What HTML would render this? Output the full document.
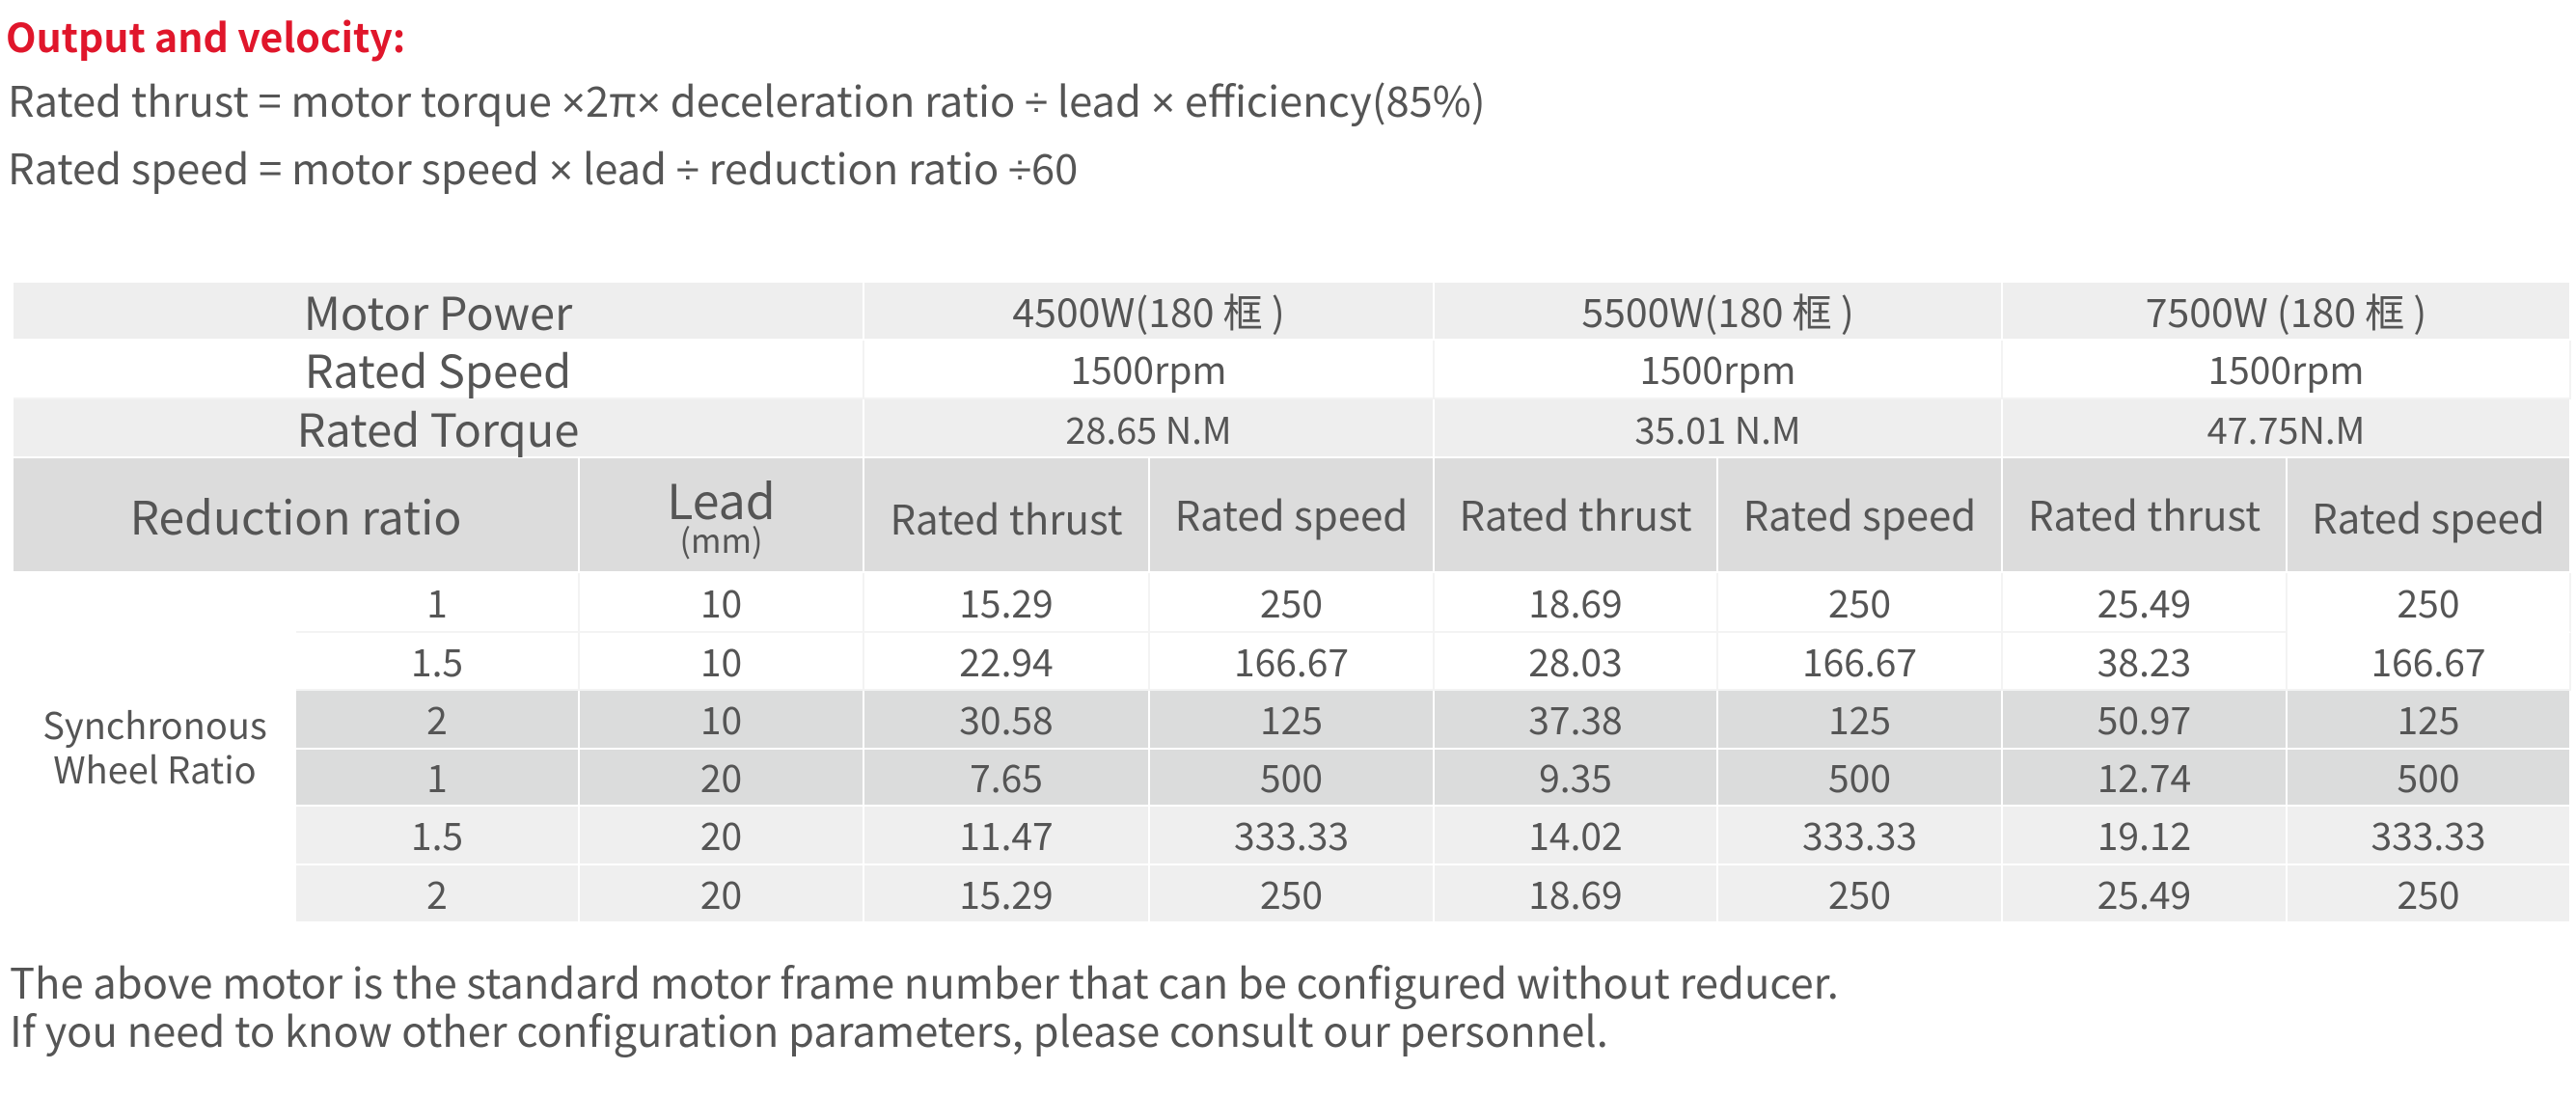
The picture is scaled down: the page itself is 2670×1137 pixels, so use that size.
<!DOCTYPE html>
<html><head><meta charset="utf-8"><style>
body{margin:0;width:2670px;height:1137px;background:#fff;position:relative;overflow:hidden;font-family:"Noto Sans CJK SC","Liberation Sans",sans-serif;color:#555;}
.t{position:absolute;white-space:nowrap;}
.s{font-family:"Liberation Sans",sans-serif;}
.c{position:absolute;display:flex;align-items:center;justify-content:center;box-sizing:border-box;text-align:center;line-height:1.15;white-space:nowrap;}
.g1{background:#eeeeee}.w{background:#fff}.hd{background:#dcdcdc}.dk{background:#dbdcdc}.lt{background:#efefef}
.bl{border-right:2px solid #f3f3f3;border-bottom:2px solid #f3f3f3}
.bg{border-right:2px solid #fff;border-bottom:2px solid #fff}
</style></head><body>
<div class="t" style="left:6px;top:6px;font-size:41px;font-weight:bold;color:#e0162b;">Output and velocity:</div>
<div class="t" style="left:8px;top:71px;font-size:43.5px;">Rated thrust = motor torque <span class="s">×</span>2π<span class="s">×</span> deceleration ratio <span class="s">÷</span> lead <span class="s">×</span> efficiency(85%)</div>
<div class="t" style="left:8px;top:141px;font-size:43.5px;">Rated speed = motor speed <span class="s">×</span> lead <span class="s">÷</span> reduction ratio <span class="s">÷</span>60</div>

<div class="c g1 bg" style="left:14px;top:293px;width:882px;height:60px;font-size:47px;">Motor Power</div>
<div class="c g1 bg" style="left:896px;top:293px;width:591px;height:60px;font-size:41px;">4500W(180 框 )</div>
<div class="c g1 bg" style="left:1487px;top:293px;width:589px;height:60px;font-size:41px;">5500W(180 框 )</div>
<div class="c g1 bg" style="left:2076px;top:293px;width:589px;height:60px;font-size:41px;">7500W (180 框 )</div>

<div class="c w bl" style="left:14px;top:353px;width:882px;height:61px;font-size:47px;">Rated Speed</div>
<div class="c w bl" style="left:896px;top:353px;width:591px;height:61px;font-size:39px;">1500rpm</div>
<div class="c w bl" style="left:1487px;top:353px;width:589px;height:61px;font-size:39px;">1500rpm</div>
<div class="c w bl" style="left:2076px;top:353px;width:589px;height:61px;font-size:39px;">1500rpm</div>

<div class="c g1 bg" style="left:14px;top:414px;width:882px;height:61px;font-size:47px;">Rated Torque</div>
<div class="c g1 bg" style="left:896px;top:414px;width:591px;height:61px;font-size:38px;">28.65 N.M</div>
<div class="c g1 bg" style="left:1487px;top:414px;width:589px;height:61px;font-size:38px;">35.01 N.M</div>
<div class="c g1 bg" style="left:2076px;top:414px;width:589px;height:61px;font-size:38px;">47.75N.M</div>

<div class="c hd bg" style="left:14px;top:475px;width:587px;height:119px;font-size:48px;">Reduction ratio</div>
<div class="c hd bg" style="left:601px;top:475px;width:295px;height:119px;flex-direction:column;"><span style="font-size:50px;line-height:1">Lead</span><span style="font-size:34px;line-height:1">(mm)</span></div>
<div class="c hd bg" style="left:896px;top:475px;width:296px;height:119px;font-size:42px;padding-top:8px;">Rated thrust</div>
<div class="c hd bg" style="left:1192px;top:475px;width:295px;height:119px;font-size:42px;">Rated speed</div>
<div class="c hd bg" style="left:1487px;top:475px;width:294px;height:119px;font-size:42px;">Rated thrust</div>
<div class="c hd bg" style="left:1781px;top:475px;width:295px;height:119px;font-size:42px;">Rated speed</div>
<div class="c hd bg" style="left:2076px;top:475px;width:295px;height:119px;font-size:42px;">Rated thrust</div>
<div class="c hd bg" style="left:2371px;top:475px;width:294px;height:119px;font-size:42px;padding-top:6px;">Rated speed</div>

<div class="c w" style="left:14px;top:594px;width:293px;height:363px;font-size:38px;line-height:1.2;white-space:normal;padding-bottom:6px;">Synchronous<br>Wheel Ratio</div>

<div id="rows"></div>
<script>
var data=[
["1","10","15.29","250","18.69","250","25.49","250","w"],
["1.5","10","22.94","166.67","28.03","166.67","38.23","166.67","w"],
["2","10","30.58","125","37.38","125","50.97","125","dk"],
["1","20","7.65","500","9.35","500","12.74","500","dk"],
["1.5","20","11.47","333.33","14.02","333.33","19.12","333.33","lt"],
["2","20","15.29","250","18.69","250","25.49","250","lt"]];
var tops=[594,656,716,777,836,897,957];
var xs=[307,601,896,1192,1487,1781,2076,2371,2665];
var h="";
for(var r=0;r<6;r++){for(var c=0;c<8;c++){
 var cls=data[r][8];var b=(cls=="w")?"bl":"bg";
 var st="left:"+xs[c]+"px;top:"+tops[r]+"px;width:"+(xs[c+1]-xs[c])+"px;height:"+(tops[r+1]-tops[r])+"px;font-size:39px;";
 if(c==7&&r==0)st+="border-bottom-color:#fff;";
 h+='<div class="c '+cls+' '+b+'" style="'+st+'">'+data[r][c]+'</div>';}}
document.getElementById("rows").outerHTML=h;
</script>

<div class="t" style="left:10px;top:985px;font-size:43.5px;">The above motor is the standard motor frame number that can be configured without reducer.</div>
<div class="t" style="left:10px;top:1035px;font-size:43.5px;">If you need to know other configuration parameters, please consult our personnel.</div>
</body></html>
